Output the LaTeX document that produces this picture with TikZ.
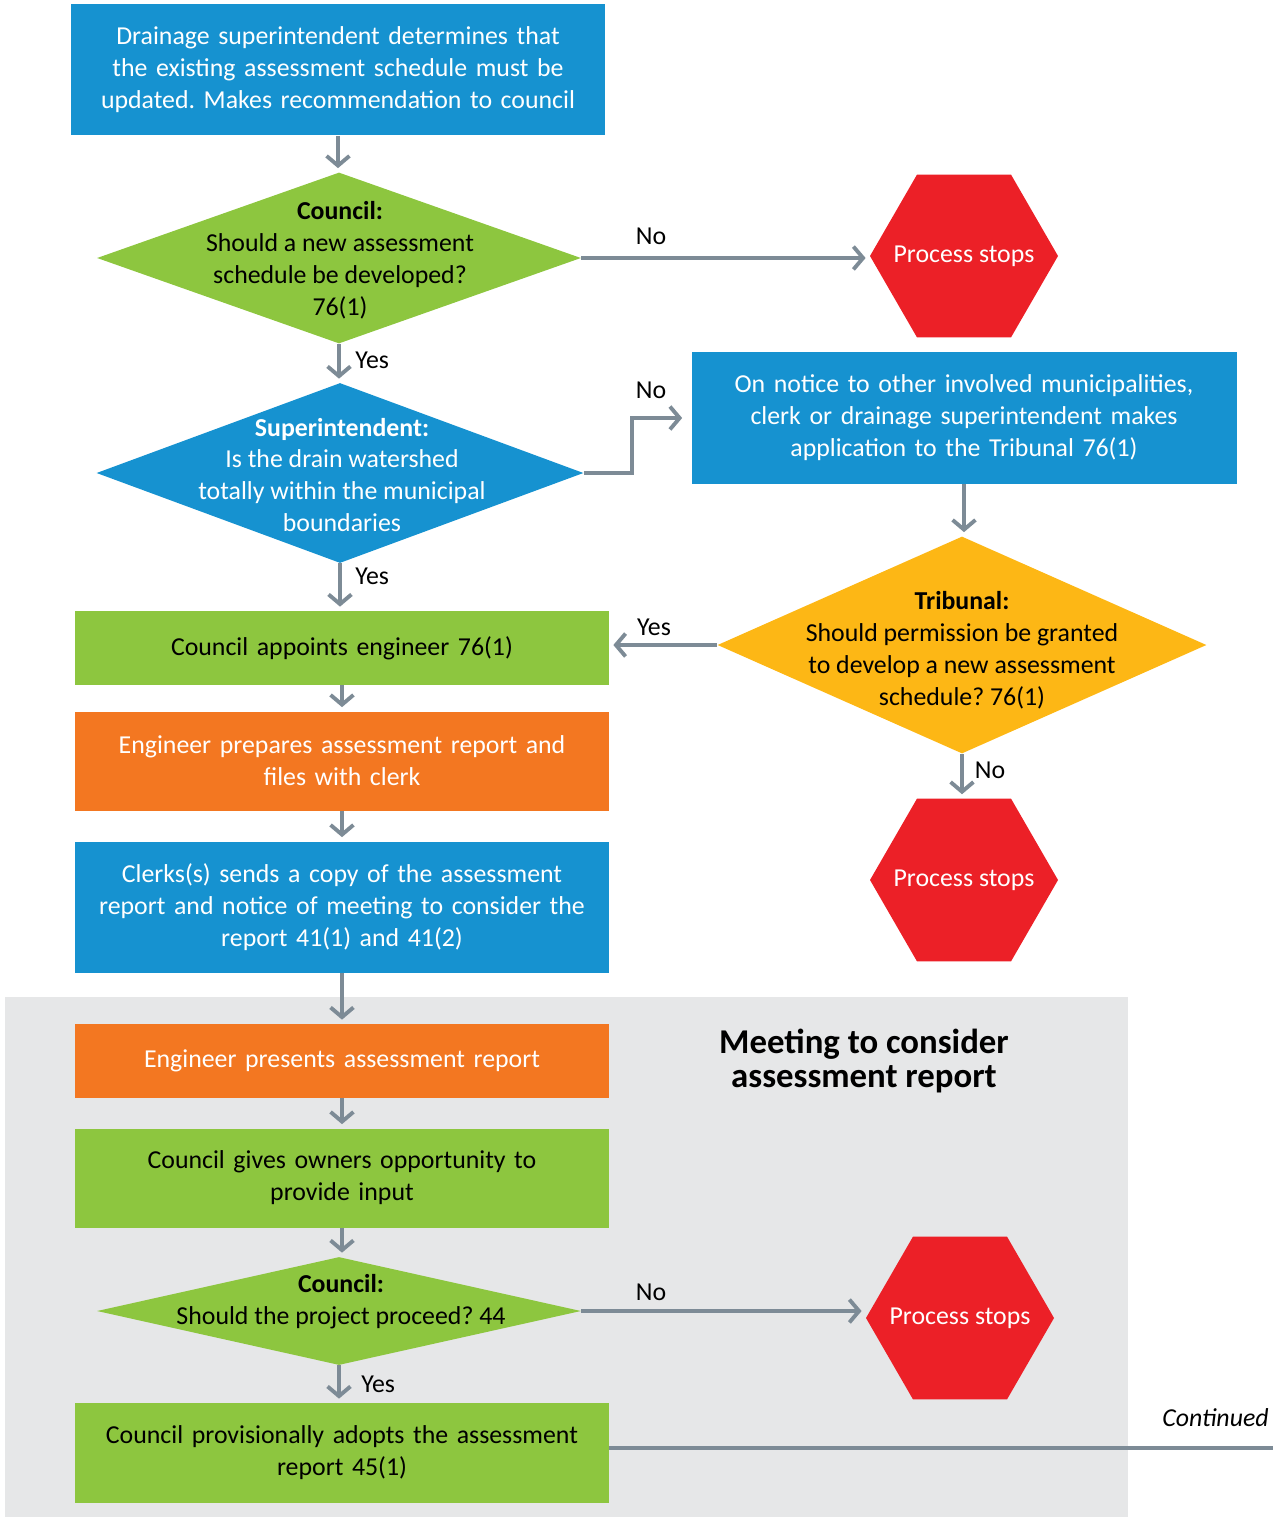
\documentclass[tikz,border=0pt]{standalone}
\usepackage{fontspec}
\setmainfont{Carlito}
\usepackage{tikz}
\usetikzlibrary{shapes.geometric, arrows.meta, positioning, backgrounds}
\definecolor{drainblue}{RGB}{22, 146, 208}
\definecolor{draingreen}{RGB}{141, 198, 63}
\definecolor{drainorange}{RGB}{243, 119, 33}
\definecolor{drainyellow}{RGB}{253, 183, 21}
\definecolor{stopred}{RGB}{236, 32, 39}
\definecolor{flowgrey}{RGB}{125, 139, 150}
\definecolor{meetgrey}{RGB}{230, 231, 232}
\newlength\pxu \setlength\pxu{0.02cm}
\newcommand\bodyfont{\fontsize{14.7}{18.2}\selectfont}
\frenchspacing
\tikzstyle{arrow} = [-{Straight Barb[length=5.5pt, width=13pt]}, line width=2.2pt, draw=flowgrey, shorten >=4\pxu]
\tikzstyle{line} = [line width=2.2pt, draw=flowgrey]
\tikzstyle{stepbox} = [rectangle, minimum width=534\pxu, text width=520\pxu, align=center,
                       inner sep=0pt, font=\bodyfont]
\tikzstyle{decision} = [diamond, inner sep=0pt]
\tikzstyle{dtext} = [align=center, inner sep=0pt, font=\bodyfont]
\tikzstyle{stophex} = [regular polygon, regular polygon sides=6, minimum size=188\pxu, inner sep=0pt,
                       fill=stopred]
\tikzstyle{answer} = [inner sep=0pt, font=\bodyfont]

\begin{document}
\begin{tikzpicture}[x=0.02cm, y=-0.02cm]
    \useasboundingbox (0,0) rectangle (1273,1517);
    % Meeting area
    \begin{scope}[on background layer]
        \fill[meetgrey] (5,997) rectangle (1128,1517);
    \end{scope}
    \node[font=\fontsize{19.8}{19}\selectfont\bfseries, align=center] (meeting) at (864,1061)
        {Meeting to consider\\assessment report};

    % Steps
    \node[stepbox, fill=drainblue, text=white, minimum height=131\pxu] (recommend) at (338,70)
        {Drainage superintendent determines that\\the existing assessment schedule must be\\updated. Makes recommendation to council};
    \node[decision, fill=draingreen, minimum width=484\pxu, minimum height=171\pxu] (council1) at (339,258) {};
    \node[dtext] (council1txt) at (340,260) {\textbf{Council:}\\Should a new assessment\\schedule be developed?\\76(1)};
    \node[stophex] (stop1) at (964,256) {};
    \node[answer, text=white] (stop1txt) at (stop1) {Process stops};
    \node[decision, fill=drainblue, minimum width=487\pxu, minimum height=180\pxu] (super) at (340,473) {};
    \node[dtext, text=white] (supertxt) at (342,475) {\textbf{Superintendent:}\\Is the drain watershed\\totally within the municipal\\boundaries};
    \node[stepbox, fill=drainblue, text=white, minimum width=545\pxu, text width=530\pxu,
          minimum height=132\pxu] (tribapp) at (964,418)
        {On notice to other involved municipalities,\\clerk or drainage superintendent makes\\application to the Tribunal 76(1)};
    \node[decision, fill=drainyellow, minimum width=489\pxu, minimum height=217\pxu] (tribunal) at (962,645) {};
    \node[dtext] (tribunaltxt) at (962,650) {\textbf{Tribunal:}\\Should permission be granted\\to develop a new assessment\\schedule? 76(1)};
    \node[stophex] (stop2) at (964,880) {};
    \node[answer, text=white] (stop2txt) at (stop2) {Process stops};
    \node[stepbox, fill=draingreen, minimum height=74\pxu] (appoint) at (342,648) {Council appoints engineer 76(1)};
    \node[stepbox, fill=drainorange, text=white, minimum height=99\pxu] (prepare) at (342,761)
        {Engineer prepares assessment report and\\files with clerk};
    \node[stepbox, fill=drainblue, text=white, minimum height=131\pxu] (sends) at (342,907)
        {Clerks(s) sends a copy of the assessment\\report and notice of meeting to consider the\\report 41(1) and 41(2)};
    \node[stepbox, fill=drainorange, text=white, minimum height=74\pxu] (presents) at (342,1061)
        {Engineer presents assessment report};
    \node[stepbox, fill=draingreen, minimum height=99\pxu] (input) at (342,1178)
        {Council gives owners opportunity to\\provide input};
    \node[decision, fill=draingreen, minimum width=484\pxu, minimum height=108\pxu] (council2) at (339,1311) {};
    \node[dtext] (council2txt) at (341,1302) {\textbf{Council:}\\Should the project proceed? 44};
    \node[stophex] (stop3) at (960,1318) {};
    \node[answer, text=white] (stop3txt) at (stop3) {Process stops};
    \node[stepbox, fill=draingreen, minimum height=100\pxu] (adopt) at (342,1453)
        {Council provisionally adopts the assessment\\report 45(1)};
    \coordinate (contd) at (1273,1448);
    \node[answer, font=\bodyfont\itshape, anchor=east] (contdtxt) at (1269,1418) {Continued};

    % Arrows
    \draw[arrow] (recommend.south) -- (recommend.south |- council1.north);
    \draw[arrow] (council1.east) -- (council1.east -| stop1.west);
    \draw[arrow] (council1.south) -- (council1.south |- super.north);
    \draw[arrow, shorten >=9\pxu] (super.east) -- ++(48,0) |- (tribapp.west);
    \draw[arrow] (tribapp.south) -- (tribapp.south |- tribunal.north);
    \draw[arrow] (tribunal.west) -- (tribunal.west -| appoint.east);
    \draw[arrow] (tribunal.south) -- (tribunal.south |- stop2.north);
    \draw[arrow] (super.south) -- (super.south |- appoint.north);
    \draw[arrow] (appoint) -- (prepare);
    \draw[arrow] (prepare) -- (sends);
    \draw[arrow] (sends) -- (presents);
    \draw[arrow] (presents) -- (input);
    \draw[arrow] (input.south) -- (input.south |- council2.north);
    \draw[arrow] (council2.east) -- (council2.east -| stop3.west);
    \draw[arrow] (council2.south) -- (council2.south |- adopt.north);
    \draw[line] (adopt.east |- contd) -- (contd);

    % Answers
    \node[answer] (no1) at (651,236) {No};
    \node[answer, anchor=west] (yes1) at (355,360) {Yes};
    \node[answer] (no2) at (651,390) {No};
    \node[answer, anchor=west] (yes2) at (355,576) {Yes};
    \node[answer] (yes3) at (654,627) {Yes};
    \node[answer] (no3) at (990,770) {No};
    \node[answer] (no4) at (651,1292) {No};
    \node[answer, anchor=west] (yes4) at (361,1384) {Yes};
\end{tikzpicture}
\end{document}
